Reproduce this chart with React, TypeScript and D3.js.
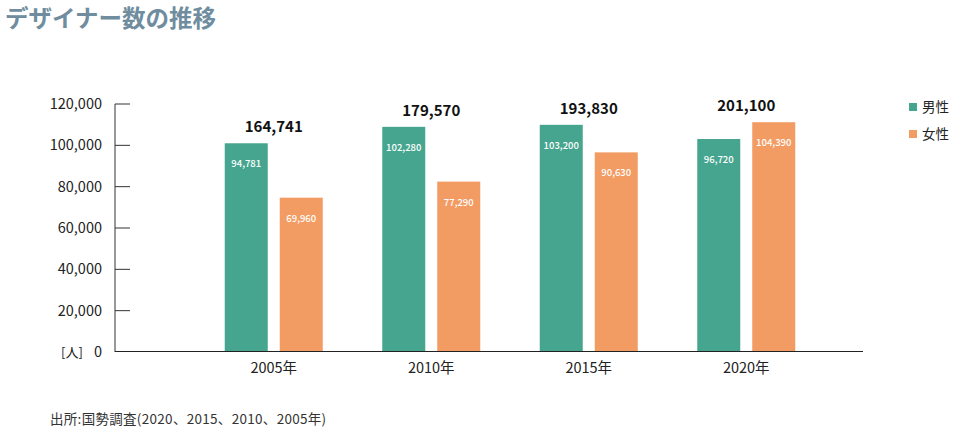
import React from "react";
import * as d3 from "d3";

const years = ["2005年", "2010年", "2015年", "2020年"];
const male = [94781, 102280, 103200, 96720];
const female = [69960, 77290, 90630, 104390];
const totals = [164741, 179570, 193830, 201100];
const yTicks = [0, 20000, 40000, 60000, 80000, 100000, 120000];
const seriesNames = ["男性", "女性"];
const colors = ["#46a58e", "#f29b63"];

const FONT = "'Noto Sans CJK JP', 'Open Sans', sans-serif";

export default function App() {
  const W = 960, H = 433;
  const axisX = 115, axisRight = 863;
  const yAxis = d3.scaleLinear().domain([0, 120000]).range([352, 104]);
  // bars in the reference are drawn slightly taller than the axis grid
  const yBar = d3.scaleLinear().domain([0, 120000]).range([351, 88]);
  const x = d3.scaleBand<string>().domain(years).range([195, 825]).padding(0);
  const barW = 43, gap = 12;
  const fmt = d3.format(",");

  return (
    <svg width={W} height={H} style={{ position: "absolute", left: 0, top: 0, background: "#fff" }} fontFamily={FONT}>
      <text x={5} y={27} fontSize={23.5} fontWeight={700} fill="#6f8d9e">デザイナー数の推移</text>

      {/* y axis */}
      <line x1={axisX} x2={axisX} y1={yAxis(120000)} y2={352} stroke="#333" strokeWidth={1} />
      {yTicks.map((t) => (
        <g key={t}>
          {t > 0 && <line x1={axisX} x2={axisX + 15} y1={yAxis(t)} y2={yAxis(t)} stroke="#333" strokeWidth={1} />}
          <text x={102} y={yAxis(t)} dy="0.35em" textAnchor="end" fontSize={14.5} fill="#222">{fmt(t)}</text>
        </g>
      ))}
      <text x={72} y={yAxis(0)} dy="0.35em" textAnchor="middle" fontSize={13} fill="#222">[人]</text>

      {/* bars */}
      {years.map((yr, i) => {
        const c = (x(yr) as number) + x.bandwidth() / 2;
        const vals = [male[i], female[i]];
        const xs = [c - gap / 2 - barW, c + gap / 2];
        const top = Math.min(yBar(male[i]), yBar(female[i]));
        return (
          <g key={yr}>
            {vals.map((v, j) => (
              <g key={j}>
                <rect x={xs[j]} y={yBar(v)} width={barW} height={yBar(0) - yBar(v)} fill={colors[j]} />
                <text x={xs[j] + barW / 2} y={yBar(v) + 24} textAnchor="middle" fontSize={9.5} fontWeight={500} fill="#fff">{fmt(v)}</text>
              </g>
            ))}
            <text x={c} y={top - 11} textAnchor="middle" fontSize={15} fontWeight={700} fill="#111">{fmt(totals[i])}</text>
            <text x={c} y={373} textAnchor="middle" fontSize={14.5} fill="#222">{yr}</text>
          </g>
        );
      })}

      {/* x axis */}
      <line x1={axisX} x2={axisRight} y1={351.5} y2={351.5} stroke="#222" strokeWidth={1.2} />

      {/* legend */}
      {seriesNames.map((s, j) => (
        <g key={s}>
          <rect x={909} y={103 + j * 27} width={8} height={8} fill={colors[j]} />
          <text x={922} y={107 + j * 27} dy="0.35em" fontSize={13.5} fill="#222">{s}</text>
        </g>
      ))}

      <text x={50} y={424} fontSize={13.5} fill="#333" letterSpacing={0.3}>出所:国勢調査(2020、2015、2010、2005年)</text>
    </svg>
  );
}
